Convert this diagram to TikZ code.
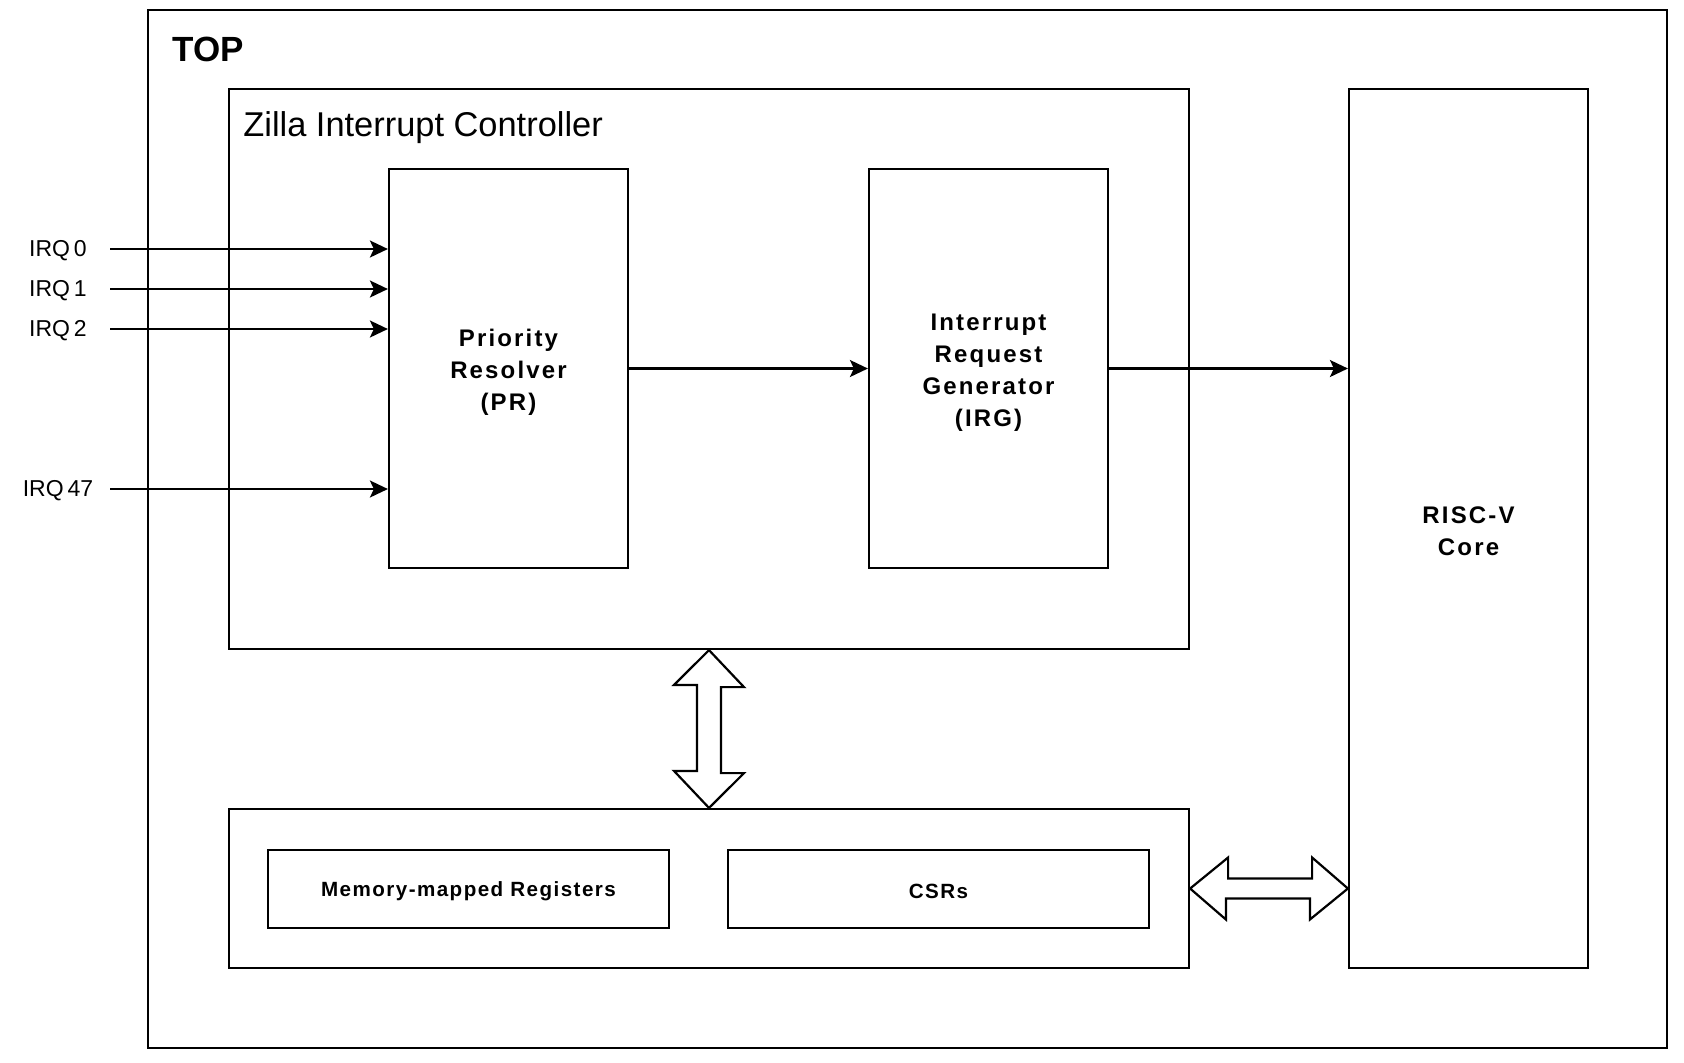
\documentclass[tikz,border=0pt]{standalone}
\usepackage{fontspec}
\setmainfont{Liberation Sans}
\newfontfamily\widefont[LetterSpace=9]{Liberation Sans}
\newfontfamily\medfont[LetterSpace=7]{Liberation Sans}
\usetikzlibrary{arrows.meta,calc}
\begin{document}
\begin{tikzpicture}[x=0.5pt,y=-0.5pt,
  box/.style={draw,line width=1.1pt,rectangle,inner sep=0pt,fill=none},
  blocktext/.style={align=center,font=\widefont\bfseries\fontsize{12}{16}\selectfont},
  smalltext/.style={align=center,font=\medfont\bfseries\fontsize{10.3}{12}\selectfont},
  irqlabel/.style={font=\fontsize{11.5}{13}\selectfont,inner sep=0pt},
  sig/.style={line width=1.1pt,-{Stealth[length=9pt,width=8.5pt,inset=2pt]}},
  bigarrow/.style={draw,line width=1.1pt,fill=white,line join=miter}]
\useasboundingbox (0,0) rectangle (1684,1062);
\fill[white] (0,0) rectangle (1684,1062);
% containers
\node[box,minimum width=759.5pt,minimum height=519pt] (top) at (907.5,529) {};
\node[font=\bfseries\fontsize{17.5}{20}\selectfont,anchor=west,inner sep=0pt] (toplbl) at (172,49) {TOP};
\node[box,minimum width=480pt,minimum height=280pt] (zic) at (709,369) {};
\node[font=\fontsize{17.2}{20}\selectfont,anchor=west,inner sep=0pt] (ziclbl) at (243,128) {Zilla Interrupt Controller};
% blocks
\node[box,minimum width=119.5pt,minimum height=199.5pt] (pr) at (508.5,368.5) {};
\node[blocktext] (prt) at ($(pr.center)+(0,4)$) {Priority\\Resolver\\(PR)};
\node[box,minimum width=119.5pt,minimum height=199.5pt] (irg) at (988.5,368.5) {};
\node[blocktext] (irgt) at ($(irg.center)+(0,4)$) {Interrupt\\Request\\Generator\\(IRG)};
\node[box,minimum width=119.5pt,minimum height=439.5pt] (risc) at (1468.5,528.5) {};
\node[blocktext] (risct) at ($(risc.center)+(0,3)$) {RISC-V\\Core};
\node[box,minimum width=480pt,minimum height=79.5pt] (bot) at (709,888.5) {};
\node[box,minimum width=200.5pt,minimum height=39pt] (mmr) at (468.5,889) {};
\node[smalltext] (mmrt) at ($(mmr.center)+(0,2)$) {Memory-mapped Registers};
\node[box,minimum width=210.5pt,minimum height=39pt] (csr) at (938.5,889) {};
\node[smalltext] (csrt) at ($(csr.center)+(0,2)$) {CSRs};
% IRQ inputs
\node[irqlabel] (l0) at (58,251) {IRQ\,0};
\node[irqlabel] (l1) at (58,291) {IRQ\,1};
\node[irqlabel] (l2) at (58,331) {IRQ\,2};
\node[irqlabel] (l47) at (58,491) {IRQ\,47};
\coordinate (s0) at (110,249);
\coordinate (s1) at (110,289);
\coordinate (s2) at (110,329);
\coordinate (s47) at (110,489);
\draw[sig] (s0) -- (s0 -| pr.west);
\draw[sig] (s1) -- (s1 -| pr.west);
\draw[sig] (s2) -- (s2 -| pr.west);
\draw[sig] (s47) -- (s47 -| pr.west);
% internal signals
\draw[sig] (pr.east) -- (irg.west);
\draw[sig] (irg.east) -- (irg.east -| risc.west);
% vertical double arrow zic <-> bottom box
\draw[bigarrow] (zic.south) -- ++(35,37) -- ++(-23,0) -- ++(0,86) -- ++(23,0) -- (bot.north)
  -- ++(-35,-37) -- ++(23,0) -- ++(0,-86) -- ++(-23,0) -- cycle;
% horizontal double arrow bottom box <-> core
\draw[bigarrow] (bot.east) -- ++(38,-31) -- ++(0,21) -- ++(84,0) -- ++(0,-21) -- (bot.east -| risc.west)
  -- ++(-38,31) -- ++(0,-21) -- ++(-84,0) -- ++(0,21) -- cycle;
\end{tikzpicture}
\end{document}
